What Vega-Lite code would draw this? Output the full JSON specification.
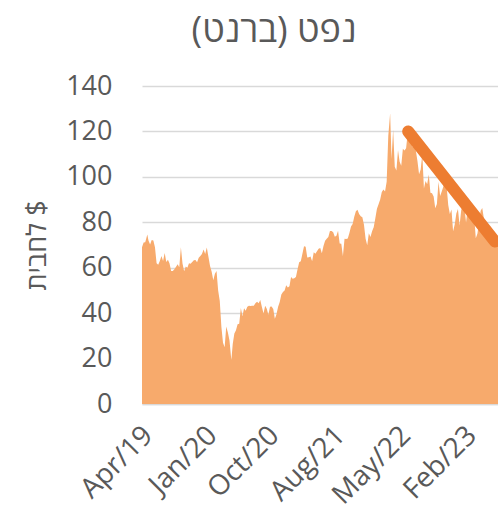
{
  "$schema": "https://vega.github.io/schema/vega-lite/v6.json",
  "width": 356,
  "height": 318,
  "autosize": "none",
  "padding": {"left": 142, "top": 86, "right": 0, "bottom": 116},
  "background": "white",
  "config": {
    "view": {"stroke": null},
    "font": "Open Sans",
    "axis": {"labelColor": "#595959", "titleColor": "#595959", "labelFont": "Open Sans", "titleFont": "Open Sans"}
  },
  "title": {
    "text": "נפט (ברנט)‏",
    "font": "Open Sans, Liberation Sans, DejaVu Sans",
    "fontSize": 36,
    "fontWeight": "normal",
    "color": "#595959",
    "anchor": "middle",
    "dx": -46,
    "offset": 22
  },
  "layer": [
    {
      "data": {
        "values": [
          {"d": "2019-04-01", "v": 69.0}, {"d": "2019-04-08", "v": 71.1}, {"d": "2019-04-15", "v": 71.2}, {"d": "2019-04-24", "v": 74.6}, {"d": "2019-04-29", "v": 72.0},
          {"d": "2019-05-06", "v": 70.2}, {"d": "2019-05-13", "v": 72.2}, {"d": "2019-05-20", "v": 72.0}, {"d": "2019-05-27", "v": 69.0},
          {"d": "2019-06-03", "v": 62.0}, {"d": "2019-06-10", "v": 61.3}, {"d": "2019-06-17", "v": 63.0}, {"d": "2019-06-24", "v": 65.2},
          {"d": "2019-07-01", "v": 63.0}, {"d": "2019-07-08", "v": 66.5}, {"d": "2019-07-15", "v": 62.5}, {"d": "2019-07-22", "v": 63.5}, {"d": "2019-07-29", "v": 61.9},
          {"d": "2019-08-05", "v": 58.5}, {"d": "2019-08-12", "v": 58.6}, {"d": "2019-08-19", "v": 59.3}, {"d": "2019-08-26", "v": 60.4},
          {"d": "2019-09-02", "v": 61.5}, {"d": "2019-09-09", "v": 60.2}, {"d": "2019-09-16", "v": 69.0}, {"d": "2019-09-23", "v": 61.9}, {"d": "2019-09-30", "v": 58.4},
          {"d": "2019-10-07", "v": 60.5}, {"d": "2019-10-14", "v": 60.0}, {"d": "2019-10-21", "v": 62.0}, {"d": "2019-10-28", "v": 61.7},
          {"d": "2019-11-04", "v": 62.5}, {"d": "2019-11-11", "v": 63.3}, {"d": "2019-11-18", "v": 63.4}, {"d": "2019-11-25", "v": 62.4},
          {"d": "2019-12-02", "v": 64.4}, {"d": "2019-12-09", "v": 65.2}, {"d": "2019-12-16", "v": 66.0}, {"d": "2019-12-23", "v": 68.0}, {"d": "2019-12-30", "v": 66.0},
          {"d": "2020-01-06", "v": 68.9}, {"d": "2020-01-13", "v": 64.8}, {"d": "2020-01-20", "v": 60.7}, {"d": "2020-01-27", "v": 58.2},
          {"d": "2020-02-03", "v": 54.5}, {"d": "2020-02-10", "v": 57.3}, {"d": "2020-02-17", "v": 58.5}, {"d": "2020-02-24", "v": 50.0},
          {"d": "2020-03-02", "v": 45.3}, {"d": "2020-03-09", "v": 33.9}, {"d": "2020-03-16", "v": 27.0}, {"d": "2020-03-23", "v": 25.0}, {"d": "2020-03-30", "v": 34.1},
          {"d": "2020-04-06", "v": 31.5}, {"d": "2020-04-13", "v": 28.0}, {"d": "2020-04-21", "v": 19.3}, {"d": "2020-04-27", "v": 26.4},
          {"d": "2020-05-04", "v": 31.0}, {"d": "2020-05-11", "v": 32.5}, {"d": "2020-05-18", "v": 35.1}, {"d": "2020-05-25", "v": 35.3},
          {"d": "2020-06-01", "v": 42.3}, {"d": "2020-06-08", "v": 38.7}, {"d": "2020-06-15", "v": 42.2}, {"d": "2020-06-22", "v": 41.0}, {"d": "2020-06-29", "v": 42.8},
          {"d": "2020-07-06", "v": 43.2}, {"d": "2020-07-13", "v": 43.1}, {"d": "2020-07-20", "v": 43.3}, {"d": "2020-07-27", "v": 43.3},
          {"d": "2020-08-03", "v": 44.4}, {"d": "2020-08-10", "v": 45.0}, {"d": "2020-08-17", "v": 44.4}, {"d": "2020-08-24", "v": 45.8}, {"d": "2020-08-31", "v": 42.7},
          {"d": "2020-09-07", "v": 39.8}, {"d": "2020-09-14", "v": 43.2}, {"d": "2020-09-21", "v": 41.9}, {"d": "2020-09-28", "v": 39.3},
          {"d": "2020-10-05", "v": 42.8}, {"d": "2020-10-12", "v": 42.9}, {"d": "2020-10-19", "v": 41.8}, {"d": "2020-10-26", "v": 37.5},
          {"d": "2020-11-02", "v": 39.5}, {"d": "2020-11-09", "v": 42.8}, {"d": "2020-11-16", "v": 44.9}, {"d": "2020-11-23", "v": 48.2}, {"d": "2020-11-30", "v": 49.3},
          {"d": "2020-12-07", "v": 50.0}, {"d": "2020-12-14", "v": 52.3}, {"d": "2020-12-21", "v": 51.3}, {"d": "2020-12-28", "v": 51.8},
          {"d": "2021-01-04", "v": 55.9}, {"d": "2021-01-11", "v": 55.1}, {"d": "2021-01-18", "v": 55.4}, {"d": "2021-01-25", "v": 55.9},
          {"d": "2021-02-01", "v": 59.3}, {"d": "2021-02-08", "v": 62.4}, {"d": "2021-02-15", "v": 62.9}, {"d": "2021-02-22", "v": 66.1},
          {"d": "2021-03-01", "v": 69.4}, {"d": "2021-03-08", "v": 69.2}, {"d": "2021-03-15", "v": 64.5}, {"d": "2021-03-22", "v": 64.6}, {"d": "2021-03-29", "v": 64.9},
          {"d": "2021-04-05", "v": 62.9}, {"d": "2021-04-12", "v": 66.8}, {"d": "2021-04-19", "v": 66.1}, {"d": "2021-04-26", "v": 67.3},
          {"d": "2021-05-03", "v": 68.3}, {"d": "2021-05-10", "v": 68.7}, {"d": "2021-05-17", "v": 66.4}, {"d": "2021-05-24", "v": 69.6}, {"d": "2021-05-31", "v": 71.9},
          {"d": "2021-06-07", "v": 72.7}, {"d": "2021-06-14", "v": 73.5}, {"d": "2021-06-21", "v": 76.2}, {"d": "2021-06-28", "v": 76.2},
          {"d": "2021-07-05", "v": 75.6}, {"d": "2021-07-12", "v": 73.6}, {"d": "2021-07-19", "v": 74.1}, {"d": "2021-07-26", "v": 76.3},
          {"d": "2021-08-02", "v": 70.7}, {"d": "2021-08-09", "v": 70.6}, {"d": "2021-08-16", "v": 65.2}, {"d": "2021-08-23", "v": 72.7}, {"d": "2021-08-30", "v": 72.6},
          {"d": "2021-09-06", "v": 72.9}, {"d": "2021-09-13", "v": 75.3}, {"d": "2021-09-20", "v": 78.1}, {"d": "2021-09-27", "v": 79.3},
          {"d": "2021-10-04", "v": 82.4}, {"d": "2021-10-11", "v": 84.9}, {"d": "2021-10-18", "v": 85.5}, {"d": "2021-10-25", "v": 83.7},
          {"d": "2021-11-01", "v": 82.7}, {"d": "2021-11-08", "v": 82.2}, {"d": "2021-11-15", "v": 78.9}, {"d": "2021-11-22", "v": 72.7}, {"d": "2021-11-29", "v": 69.9},
          {"d": "2021-12-06", "v": 75.2}, {"d": "2021-12-13", "v": 73.5}, {"d": "2021-12-20", "v": 76.1}, {"d": "2021-12-27", "v": 77.8},
          {"d": "2022-01-03", "v": 81.8}, {"d": "2022-01-10", "v": 86.0}, {"d": "2022-01-17", "v": 87.9}, {"d": "2022-01-24", "v": 90.0}, {"d": "2022-01-31", "v": 93.3},
          {"d": "2022-02-07", "v": 94.4}, {"d": "2022-02-14", "v": 93.5}, {"d": "2022-02-21", "v": 97.9}, {"d": "2022-02-28", "v": 118.0},
          {"d": "2022-03-08", "v": 128.0}, {"d": "2022-03-14", "v": 107.9}, {"d": "2022-03-21", "v": 120.7}, {"d": "2022-03-28", "v": 104.4},
          {"d": "2022-04-04", "v": 102.8}, {"d": "2022-04-11", "v": 111.7}, {"d": "2022-04-18", "v": 106.7}, {"d": "2022-04-25", "v": 104.9},
          {"d": "2022-05-02", "v": 112.4}, {"d": "2022-05-09", "v": 111.6}, {"d": "2022-05-16", "v": 112.6}, {"d": "2022-05-23", "v": 119.4}, {"d": "2022-05-30", "v": 119.7},
          {"d": "2022-06-06", "v": 122.0}, {"d": "2022-06-13", "v": 113.1}, {"d": "2022-06-20", "v": 113.1}, {"d": "2022-06-27", "v": 111.6},
          {"d": "2022-07-04", "v": 107.0}, {"d": "2022-07-11", "v": 101.2}, {"d": "2022-07-18", "v": 103.2}, {"d": "2022-07-25", "v": 110.0},
          {"d": "2022-08-01", "v": 94.9}, {"d": "2022-08-08", "v": 98.2}, {"d": "2022-08-15", "v": 96.7}, {"d": "2022-08-22", "v": 101.0}, {"d": "2022-08-29", "v": 93.0},
          {"d": "2022-09-05", "v": 92.8}, {"d": "2022-09-12", "v": 91.4}, {"d": "2022-09-19", "v": 86.2}, {"d": "2022-09-26", "v": 88.0},
          {"d": "2022-10-03", "v": 97.9}, {"d": "2022-10-10", "v": 91.6}, {"d": "2022-10-17", "v": 93.5}, {"d": "2022-10-24", "v": 95.8}, {"d": "2022-10-31", "v": 98.6},
          {"d": "2022-11-07", "v": 96.0}, {"d": "2022-11-14", "v": 87.6}, {"d": "2022-11-21", "v": 83.6}, {"d": "2022-11-28", "v": 85.6},
          {"d": "2022-12-05", "v": 76.1}, {"d": "2022-12-12", "v": 79.0}, {"d": "2022-12-19", "v": 83.9}, {"d": "2022-12-26", "v": 85.9},
          {"d": "2023-01-02", "v": 78.6}, {"d": "2023-01-09", "v": 85.3}, {"d": "2023-01-16", "v": 87.6}, {"d": "2023-01-23", "v": 86.7}, {"d": "2023-01-30", "v": 79.9},
          {"d": "2023-02-06", "v": 86.4}, {"d": "2023-02-13", "v": 83.0}, {"d": "2023-02-20", "v": 83.2}, {"d": "2023-02-27", "v": 85.8},
          {"d": "2023-03-06", "v": 82.8}, {"d": "2023-03-13", "v": 73.0}, {"d": "2023-03-20", "v": 75.0}, {"d": "2023-03-27", "v": 79.8},
          {"d": "2023-04-03", "v": 85.1}, {"d": "2023-04-10", "v": 86.3}, {"d": "2023-04-17", "v": 81.7}, {"d": "2023-04-24", "v": 79.5},
          {"d": "2023-05-01", "v": 75.3}, {"d": "2023-05-08", "v": 74.2}, {"d": "2023-05-15", "v": 75.6}, {"d": "2023-05-22", "v": 76.9}, {"d": "2023-05-29", "v": 76.0},
          {"d": "2023-06-05", "v": 74.8}, {"d": "2023-06-12", "v": 71.8}, {"d": "2023-06-17", "v": 72.5}
        ]
      },
      "mark": {"type": "area", "color": "#F7AA6C", "interpolate": "linear", "clip": true},
      "encoding": {
        "x": {
          "field": "d",
          "type": "temporal",
          "scale": {"domain": [{"year": 2019, "month": 4, "date": 1}, {"year": 2023, "month": 6, "date": 17}]},
          "axis": {
            "title": null,
            "values": [
              {"year": 2019, "month": 4, "date": 28},
              {"year": 2020, "month": 1, "date": 30},
              {"year": 2020, "month": 10, "date": 24},
              {"year": 2021, "month": 8, "date": 5},
              {"year": 2022, "month": 5, "date": 15},
              {"year": 2023, "month": 2, "date": 24}
            ],
            "format": "%b/%y",
            "labelAngle": -45,
            "labelAlign": "right",
            "labelBaseline": "middle",
            "labelFontSize": 28,
            "labelPadding": 27,
            "labelOverlap": false,
            "labelFlush": false,
            "ticks": false,
            "grid": false,
            "domain": true,
            "domainColor": "#d9d9d9",
            "domainWidth": 1.5
          }
        },
        "y": {
          "field": "v",
          "type": "quantitative",
          "scale": {"domain": [0, 140]},
          "axis": {
            "title": "‏$ לחבית",
            "titleFont": "Open Sans, Liberation Sans, DejaVu Sans",
            "titleFontSize": 27,
            "titleFontWeight": "normal",
            "titleX": -105,
            "titleY": 159,
            "titleBaseline": "middle",
            "titleAngle": -90,
            "values": [0, 20, 40, 60, 80, 100, 120, 140],
            "labelFontSize": 27,
            "labelPadding": 30,
            "ticks": false,
            "domain": false,
            "grid": true,
            "gridColor": "#d9d9d9",
            "gridWidth": 1.5
          }
        }
      }
    },
    {
      "data": {
        "values": [
          {"d": "2022-05-25", "v": 120.0},
          {"d": "2023-06-04", "v": 71.5}
        ]
      },
      "mark": {"type": "line", "color": "#ED7D31", "strokeWidth": 12, "strokeCap": "round"},
      "encoding": {
        "x": {"field": "d", "type": "temporal"},
        "y": {"field": "v", "type": "quantitative"}
      }
    }
  ]
}
